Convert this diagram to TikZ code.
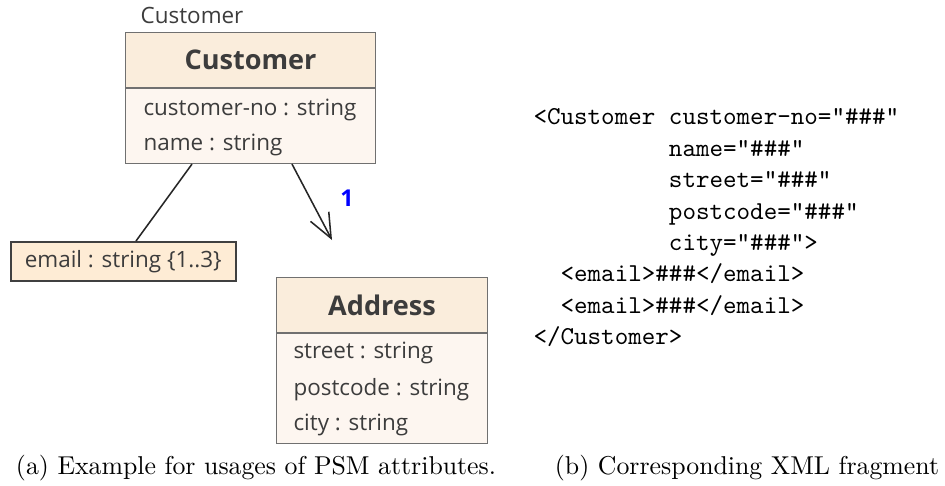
\documentclass[tikz,border=0pt]{standalone}
\usepackage{fontspec}
\newfontfamily\umlfont{Open Sans}
\usetikzlibrary{arrows.meta}

\definecolor{headfill}{HTML}{FAEDDC}
\definecolor{bodyfill}{HTML}{FDF6F0}
\definecolor{attrfill}{HTML}{FEECD5}
\definecolor{boxline}{HTML}{707070}
\definecolor{umltext}{HTML}{3C3C3C}

\newcommand{\upx}{0.3876pt}

\tikzset{
  classhead/.style={draw=boxline, fill=headfill, inner sep=0pt, text=umltext,
    font=\umlfont\fontsize{10.5}{12}\selectfont\bfseries},
  classbody/.style={draw=boxline, fill=bodyfill, inner sep=0pt},
  attr/.style={anchor=west, inner sep=0pt, text=umltext,
    font=\umlfont\fontsize{8.7}{10}\selectfont},
  attrbox/.style={draw=black!75, fill=attrfill, inner sep=0pt, text=umltext,
    line width=0.6pt, font=\umlfont\fontsize{8.7}{10}\selectfont},
  assoc/.style={draw=black!85, line width=0.6pt},
  card/.style={text=blue, inner sep=0pt, font=\umlfont\fontsize{9}{10}\selectfont\bfseries},
  xml/.style={align=left, inner sep=0pt, font=\ttfamily\fontsize{10}{12.2}\selectfont},
  caption/.style={anchor=base, inner sep=0pt},
}

\begin{document}
\begin{tikzpicture}[x=\upx, y=-\upx]
    \useasboundingbox (0,0) rectangle (945,485);

    % Customer class
    \node[attr, anchor=center] (custlabel) at (192,15) {Customer};
    \node[classhead, minimum width=250*\upx, minimum height=55*\upx, anchor=north west] (custhead) at (125,32) {Customer};
    \node[classbody, minimum width=250*\upx, minimum height=75*\upx, anchor=north] (custbody) at (custhead.south) {};
    \node[attr] (custno) at (143,110) {customer-no : string};
    \node[attr] (custname) at (143,145) {name : string};

    % attribute with multiplicity
    \node[attrbox, minimum width=225*\upx, minimum height=39*\upx, anchor=north west] (email) at (10,241) {email : string \{1..3\}};

    % Address class
    \node[classhead, minimum width=211*\upx, minimum height=55*\upx, anchor=north west] (addrhead) at (276,277) {Address};
    \node[classbody, minimum width=211*\upx, minimum height=110*\upx, anchor=north] (addrbody) at (addrhead.south) {};
    \node[attr] (street) at (293,353) {street : string};
    \node[attr] (postcode) at (293,390) {postcode : string};
    \node[attr] (city) at (293,425) {city : string};

    \draw[assoc] ([xshift=67*\upx]custbody.south west) -- ([xshift=126*\upx]email.north west);
    \coordinate (addrtip) at (332,240);
    \draw[assoc, -{Straight Barb[length=9.5pt, width=8pt]}] ([xshift=167*\upx]custbody.south west) -- (addrtip);
    \node[card] (addrcard) at (347,198) {1};

    % XML fragment
    \node[xml, anchor=north west] (xmlfrag) at (533,108) {%
        <Customer customer-no="\#\#\#"\\
        \phantom{<Customer }name="\#\#\#"\\
        \phantom{<Customer }street="\#\#\#"\\
        \phantom{<Customer }postcode="\#\#\#"\\
        \phantom{<Customer }city="\#\#\#">\\
        \phantom{xx}<email>\#\#\#</email>\\
        \phantom{xx}<email>\#\#\#</email>\\
        </Customer>};

    % captions
    \node[caption] (capa) at (256,474) {(a) Example for usages of PSM attributes.};
    \node[caption] (capb) at (747,474) {(b) Corresponding XML fragment};
\end{tikzpicture}
\end{document}
